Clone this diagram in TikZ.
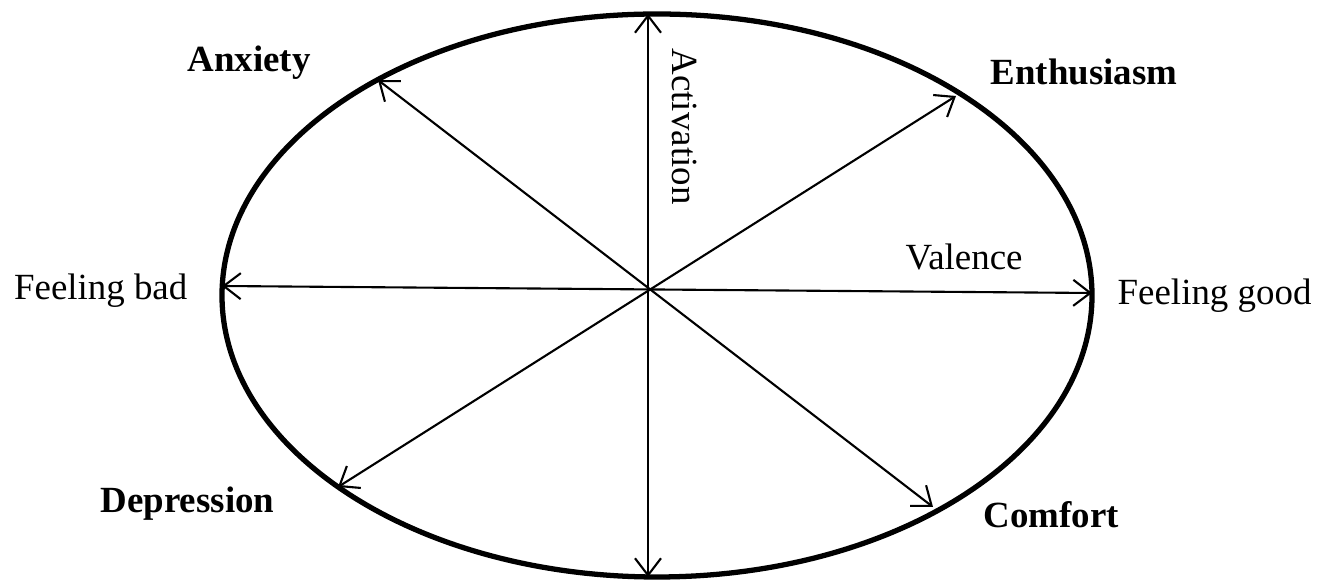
\documentclass[tikz,border=0pt]{standalone}
\usepackage{fontspec}
\setmainfont{Liberation Serif}
\usepackage{tikz}
\usetikzlibrary{arrows.meta, positioning}
\tikzset{
  axisarr/.style={{Straight Barb[length=1.7mm, width=2.6mm]}-{Straight Barb[length=1.7mm, width=2.6mm]}, line width=0.6pt, draw=black},
  rimline/.style={line width=1.5pt, draw=black},
  moodlbl/.style={font=\fontsize{10.5}{12}\selectfont\bfseries, inner sep=0pt},
  polelbl/.style={font=\fontsize{10.5}{12}\selectfont, inner sep=0pt},
}
\begin{document}
\begin{tikzpicture}
  \useasboundingbox (0,0) rectangle (13.3,-5.81);

  % outer oval
  \draw[rimline] (6.57,-2.955) ellipse [x radius=4.35, y radius=2.815];

  % arrow ends on the rim
  \coordinate (top) at (6.48,-0.14);
  \coordinate (bot) at (6.48,-5.77);
  \coordinate (west) at (2.22,-2.86);
  \coordinate (east) at (10.92,-2.93);
  \coordinate (nw) at (3.78,-0.80);
  \coordinate (se) at (9.33,-5.07);
  \coordinate (sw) at (3.38,-4.87);
  \coordinate (ne) at (9.56,-0.96);

  \foreach \a/\b in {top/bot, west/east, nw/se, sw/ne} {
    \draw[axisarr] (\a) -- (\b);
  }

  % labels
  \node[moodlbl, anchor=base west] (anx) at (1.87,-0.72) {Anxiety};
  \node[moodlbl, anchor=base west] (ent) at (9.90,-0.85) {Enthusiasm};
  \node[moodlbl, anchor=base west] (dep) at (1.00,-5.13) {Depression};
  \node[moodlbl, anchor=base west] (com) at (9.83,-5.28) {Comfort};
  \node[polelbl, anchor=base east] (bad) at (1.88,-3.00) {Feeling bad};
  \node[polelbl, anchor=base west] (good) at (11.17,-3.05) {Feeling good};
  \node[polelbl, anchor=base west] (val) at (9.05,-2.70) {Valence};
  \node[polelbl, anchor=base west, rotate=-90] (act) at (6.72,-0.48) {Activation};
\end{tikzpicture}
\end{document}
